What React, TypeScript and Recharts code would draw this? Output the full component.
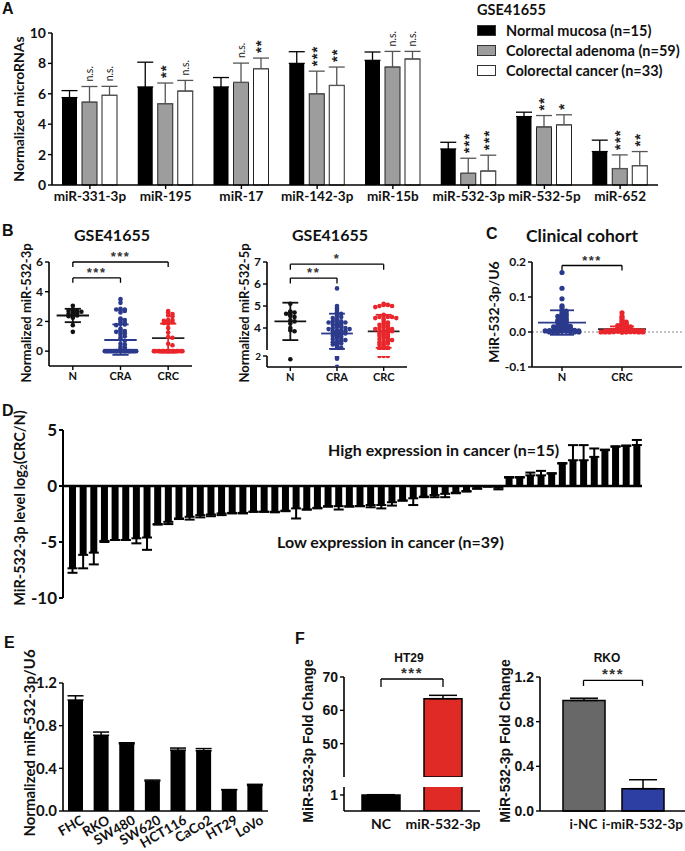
import React from 'react';
import {
  BarChart, Bar, XAxis, YAxis, ErrorBar, LabelList, Legend, Cell,
  ScatterChart, Scatter, ReferenceLine,
} from 'recharts';

const FONT = 'Lato, "Open Sans", sans-serif';
const ARIAL = '"Liberation Sans", Arial, sans-serif';
const INK = '#111';
const NAVY = '#2b3a8c';
const RED = '#e8262b';

// ---- Panel A: GSE41655 microRNA levels
const aMirnas = ['miR-331-3p', 'miR-195', 'miR-17', 'miR-142-3p', 'miR-15b', 'miR-532-3p', 'miR-532-5p', 'miR-652'];
const aSeries = ['Normal mucosa (n=15)', 'Colorectal adenoma (n=59)', 'Colorectal cancer (n=33)'];
const aNormal = [5.75, 6.45, 6.45, 8.0, 8.2, 2.37, 4.5, 2.2];
const aNormalSd = [0.46, 1.63, 0.62, 0.77, 0.55, 0.44, 0.29, 0.75];
const aAdenoma = [5.45, 5.35, 6.75, 6.0, 7.76, 0.77, 3.82, 1.08];
const aAdenomaSd = [1.03, 1.36, 1.27, 1.49, 1.03, 0.99, 0.75, 0.9];
const aCancer = [5.9, 6.18, 7.65, 6.55, 8.29, 0.92, 3.96, 1.27];
const aCancerSd = [0.59, 0.7, 0.7, 1.21, 0.5, 1.04, 0.66, 0.93];
const aAdenomaSig = ['n.s.', '**', 'n.s.', '***', 'n.s.', '***', '**', '***'];
const aCancerSig = ['n.s.', 'n.s.', '**', '**', 'n.s.', '***', '*', '**'];

// ---- Panel B: scatter groups
const bGroups = ['N', 'CRA', 'CRC'];
const b1N = [3.05, 2.8, 2.75, 2.7, 2.7, 2.65, 2.6, 2.55, 2.5, 2.45, 2.4, 2.35, 2.25, 1.75, 1.3];
const b1CRA = [3.5, 3.25, 2.85, 2.8, 2.8, 2.75, 2.7, 2.6, 2.2, 2.15, 2.1, 2.0, 1.9, 1.85, 1.8, 1.75, 1.5, 1.4, 1.35, 1.3,
  1.25, 1.2, 1.1, 1.0, 0.9, 0.8, 0.7, 0.5, 0.45, 0.3, 0.25, 0.15, 0.1,
  0, 0, 0, 0, 0, 0, 0, 0, 0, 0, 0, 0, 0, 0, 0, 0, 0, 0, 0, 0, 0, 0, 0, 0, 0, 0];
const b1CRC = [2.7, 2.6, 2.5, 2.4, 2.35, 2.1, 2.1, 2.05, 2.0, 1.95, 1.9, 1.85, 1.55, 1.25, 0.95, 0.9, 0.5, 0.4,
  0, 0, 0, 0, 0, 0, 0, 0, 0, 0, 0, 0, 0, 0, 0];
const b1Mean = [2.4, 0.75, 0.88];
const b1SdLow = [1.95, -0.25, -0.1];
const b1SdHigh = [2.85, 1.8, 1.85];

const b2N = [5.1, 4.75, 4.72, 4.7, 4.65, 4.6, 4.55, 4.5, 4.35, 4.3, 4.2, 4.0, 3.9, 3.85, 1.4];
const b2CRA = [5.8, 5.0, 4.9, 4.8, 4.7, 4.65, 4.6, 4.55, 4.5, 4.45, 4.4, 4.35, 4.3, 4.3, 4.25, 4.25, 4.2, 4.2, 4.15, 4.1,
  4.1, 4.05, 4.05, 4.0, 4.0, 3.95, 3.95, 3.9, 3.9, 3.85, 3.85, 3.8, 3.8, 3.75, 3.75, 3.7, 3.7, 3.65, 3.6, 3.6,
  3.55, 3.5, 3.5, 3.45, 3.4, 3.4, 3.35, 3.3, 3.3, 3.25, 3.2, 3.15, 3.1, 3.05, 3.0, 3.0, 1.75, 1.5, 0.05];
const b2CRC = [5.1, 5.05, 5.05, 5.0, 5.0, 4.95, 4.6, 4.55, 4.5, 4.5, 4.5, 4.45, 4.45, 4.4, 4.3, 4.25, 4.2, 4.2, 4.15, 4.1,
  4.1, 4.05, 4.0, 4.0, 3.95, 3.95, 3.9, 3.9, 3.85, 3.85, 3.8, 3.8, 3.75, 3.7, 3.7, 3.65, 3.6, 3.6, 3.55, 3.5,
  3.5, 3.45, 3.4, 3.4, 3.35, 3.3, 3.3, 3.25, 3.2, 3.15, 3.1, 3.1, 3.05, 3.0, 3.0, 2.0, 2.0, 2.0];
const b2Mean = [4.3, 3.75, 3.85];
const b2SdLow = [3.45, 3.05, 3.1];
const b2SdHigh = [5.15, 4.65, 4.6];

// ---- Panel C: clinical cohort
const cGroups = ['N', 'CRC'];
const cN = [0.17, 0.125, 0.095, 0.075, 0.07, 0.062, 0.06, 0.055, 0.052, 0.05, 0.047, 0.045, 0.042, 0.04, 0.038, 0.035,
  0.033, 0.03, 0.03, 0.028, 0.025, 0.022, 0.02, 0.02, 0.018, 0.016, 0.015, 0.013, 0.012, 0.01, 0.01, 0.009, 0.008,
  0.007, 0.006, 0.005, 0.005, 0.004, 0.003, 0.003, 0.002, 0.002, 0.001, 0.001, 0, 0, 0, 0];
const cCRC = [0.055, 0.045, 0.04, 0.035, 0.03, 0.028, 0.025, 0.022, 0.02, 0.02, 0.018, 0.015, 0.012, 0.01, 0.01, 0.009,
  0.008, 0.007, 0.006, 0.005, 0.005, 0.004, 0.004, 0.003, 0.003, 0.002, 0.002, 0.002, 0.001, 0.001, 0.001,
  0, 0, 0, 0, 0, 0, 0, 0];
const cMean = [0.027, 0.008];
const cSdLow = [-0.008, 0.0];
const cSdHigh = [0.062, 0.016];

// ---- Panel D: log2(CRC/N) per patient
const dValues = [-7.35, -6.15, -5.95, -4.9, -4.82, -4.82, -4.67, -4.6, -3.4, -3.2, -2.9, -2.75, -2.6, -2.55, -2.45,
  -2.4, -2.4, -2.3, -2.3, -2.3, -2.2, -2.0, -2.1, -1.95, -1.8, -1.8, -1.8, -1.8, -1.7, -1.7, -1.45, -1.3, -1.1,
  -0.95, -0.8, -0.7, -0.6, -0.45, -0.2, -0.05, -0.15,
  0.75, 0.75, 0.95, 0.95, 1.1, 2.0, 2.3, 2.3, 2.6, 3.2, 3.5, 3.57, 3.66];
const dErr = [0.4, 1.2, 1.05, 0.1, 0, 0, 0.45, 1.1, 0.05, 0.2, 0.05, 0.25, 0.2, 0.15, 0.15, 0.05, 0.05, 0, 0, 0.05,
  0.05, 0.9, 0, 0.05, 0.05, 0.3, 0.05, 0, 0.2, 0.3, 0.3, 0, 0.6, 0.05, 0.2, 0.3, 0.05, 0.05, 0.05, 0, 0.15,
  0.05, 0.05, 0.25, 0.4, 0.05, 0.05, 1.35, 1.35, 0.75, 0.05, 0.05, 0.05, 0.45];

// ---- Panel E: cell lines
const eLines = ['FHC', 'RKO', 'SW480', 'SW620', 'HCT116', 'CaCo2', 'HT29', 'LoVo'];
const eVals = [1.04, 0.71, 0.63, 0.28, 0.57, 0.565, 0.2, 0.24];
const eErr = [0.04, 0.03, 0.01, 0.01, 0.02, 0.02, 0.0, 0.01];

// ---- Panel F: fold change
const f1Groups = ['NC', 'miR-532-3p'];
const f1Vals = [1.0, 63.5];
const f1Err = [0.02, 1.0];
const f2Groups = ['i-NC', 'i-miR-532-3p'];
const f2Vals = [0.99, 0.2];
const f2Err = [0.02, 0.08];

const axisLine = { stroke: '#000', strokeWidth: 1.6 };
const tickLine = { stroke: '#000', strokeWidth: 1.4 };
const tickStyle = (fs: number, family = FONT) => ({ fontSize: fs, fontWeight: 700, fontFamily: family, fill: INK });

const yTitle = (text: string, x: number, cy: number, fs: number, family = FONT) => () => (
  <text x={x} y={cy} transform={`rotate(-90 ${x} ${cy})`} textAnchor="middle" dominantBaseline="central"
    fontSize={fs} fontWeight={700} fontFamily={family} fill={INK}>{text}</text>
);

// simple beeswarm placement of dots around a group centre
const swarm = (vals: number[], center: number, binH: number, step: number, maxOff: number) => {
  const counts = new Map<number, number>();
  return vals.map((v) => {
    const key = Math.round(v / binH);
    const k = counts.get(key) ?? 0;
    counts.set(key, k + 1);
    let off = Math.ceil(k / 2) * step * (k % 2 === 1 ? 1 : -1);
    if (Math.abs(off) > maxOff) off = Math.sign(off) * (Math.abs(off) % maxOff);
    return { x: center + off, y: v };
  });
};

const dot = (color: string, r = 2.3) => (p: any) => <circle cx={p.cx} cy={p.cy} r={r} fill={color} />;

const seg = (key: string, x1: any, y1: number, x2: any, y2: number, color = '#000', w = 1.3) => (
  <ReferenceLine key={key} segment={[{ x: x1, y: y1 }, { x: x2, y: y2 }]} stroke={color} strokeWidth={w} ifOverflow="visible" />
);

const bracket = (key: string, x1: any, x2: any, y: number, drop: number, text: string, fs = 13) => [
  <ReferenceLine key={`${key}-h`} segment={[{ x: x1, y }, { x: x2, y }]} stroke="#000" strokeWidth={1.3} ifOverflow="visible"
    label={{ value: text, position: 'top', offset: 1, fill: '#333', fontSize: fs, fontWeight: 700, fontFamily: ARIAL, letterSpacing: 1.5 }} />,
  seg(`${key}-l`, x1, y, x1, y - drop),
  seg(`${key}-r`, x2, y, x2, y - drop),
];

const meanSd = (key: string, cx: number, mean: number, lo: number, hi: number, halfMean: number, halfCap: number,
  color: string, meanColor: string) => [
  seg(`${key}-v`, cx, lo, cx, hi, color, 1.8),
  seg(`${key}-t`, cx - halfCap, hi, cx + halfCap, hi, color, 1.8),
  seg(`${key}-b`, cx - halfCap, lo, cx + halfCap, lo, color, 1.8),
  seg(`${key}-m`, cx - halfMean, mean, cx + halfMean, mean, meanColor, 1.8),
];

const sigLabel = (vals: number[], sds: number[]) => (p: any) => {
  const vb = p.viewBox ?? p;
  const i = p.index;
  const scale = vb.height / vals[i];
  const top = vb.y - sds[i] * scale - 5;
  const cx = vb.x + vb.width / 2;
  const ns = p.value === 'n.s.';
  return (
    <text x={cx} y={top} transform={`rotate(-90 ${cx} ${top})`} textAnchor="start" dominantBaseline="central"
      fontSize={ns ? 10.5 : 15} fontWeight={ns ? 400 : 700} fontFamily={ns ? FONT : ARIAL} letterSpacing={ns ? 0 : 1}
      fill="#222">{p.value}</text>
  );
};

function LegendA() {
  const fills = ['#000', '#9d9d9d', '#fff'];
  return (
    <div style={{ fontFamily: FONT, fontWeight: 700, color: INK, whiteSpace: 'nowrap' }}>
      <div style={{ fontSize: 14.5, height: 20, lineHeight: '20px' }}>GSE41655</div>
      {aSeries.map((s, i) => (
        <div key={s} style={{ display: 'flex', alignItems: 'center', height: 20, fontSize: 14.5 }}>
          <span style={{ width: 17, height: 9, background: fills[i], border: '1px solid #333', marginRight: 10, flex: 'none' }} />
          {s}
        </div>
      ))}
    </div>
  );
}

function PanelA() {
  const data = aMirnas.map((name, i) => ({
    name,
    normal: aNormal[i], normalErr: [0, aNormalSd[i]],
    adenoma: aAdenoma[i], adenomaErr: [0, aAdenomaSd[i]], adenomaSig: aAdenomaSig[i],
    cancer: aCancer[i], cancerErr: [0, aCancerSd[i]], cancerSig: aCancerSig[i],
  }));
  return (
    <div style={{ position: 'absolute', left: 0, top: 0 }}>
      <BarChart width={670} height={215} data={data} margin={{ top: 33, right: 12, bottom: 0, left: 22 }} barSize={15} barGap={5}>
        <XAxis dataKey="name" interval={0} height={30} tickSize={4} axisLine={axisLine} tickLine={tickLine} tick={tickStyle(13.5)} />
        <YAxis domain={[0, 10]} ticks={[0, 2, 4, 6, 8, 10]} width={30} tickSize={4} axisLine={axisLine} tickLine={tickLine}
          tick={tickStyle(14)} label={yTitle('Normalized microRNAs', 18, 109, 14)} />
        <Legend layout="horizontal" verticalAlign="middle" align="center" content={() => <LegendA />}
          wrapperStyle={{ left: 477, top: 0, width: 208, height: 80 }} />
        <Bar dataKey="normal" fill="#000" isAnimationActive={false}>
          <ErrorBar dataKey="normalErr" width={8} stroke="#000" strokeWidth={1.3} />
        </Bar>
        <Bar dataKey="adenoma" fill="#9d9d9d" stroke="#222" strokeWidth={1} isAnimationActive={false}>
          <ErrorBar dataKey="adenomaErr" width={8} stroke="#555" strokeWidth={1.3} />
          <LabelList dataKey="adenomaSig" content={sigLabel(aAdenoma, aAdenomaSd)} />
        </Bar>
        <Bar dataKey="cancer" fill="#fff" stroke="#222" strokeWidth={1} isAnimationActive={false}>
          <ErrorBar dataKey="cancerErr" width={8} stroke="#555" strokeWidth={1.3} />
          <LabelList dataKey="cancerSig" content={sigLabel(aCancer, aCancerSd)} />
        </Bar>
      </BarChart>
    </div>
  );
}

const bColors = ['#111', NAVY, RED];
const bMeanColors = ['#111', NAVY, '#222'];

function PanelB1() {
  const groups = [b1N, b1CRA, b1CRC];
  return (
    <div style={{ position: 'absolute', left: 0, top: 225 }}>
      <ScatterChart width={200} height={165} margin={{ top: 37, right: 8, bottom: 4, left: 19 }}>
        <XAxis type="number" dataKey="x" domain={[0.5, 3.5]} ticks={[1, 2, 3]} allowDataOverflow height={20}
          tickFormatter={(v: number) => bGroups[v - 1]} tickSize={4} axisLine={axisLine} tickLine={tickLine} tick={tickStyle(11)} />
        <YAxis type="number" dataKey="y" domain={[-1, 6]} ticks={[0, 2, 4, 6]} allowDataOverflow width={30} tickSize={4}
          axisLine={axisLine} tickLine={tickLine} tick={tickStyle(12)} label={yTitle('Normalized miR-532-3p', 26, 88, 13)} />
        {groups.map((g, i) => (
          <Scatter key={bGroups[i]} data={swarm(g, i + 1, 0.15, 0.09, 0.33)} shape={dot(bColors[i])} isAnimationActive={false} />
        ))}
        {bGroups.map((g, i) => meanSd(`b1${g}`, i + 1, b1Mean[i], b1SdLow[i], b1SdHigh[i], 0.34, 0.17, bColors[i], bMeanColors[i]))}
        {bracket('b1a', 1, 3, 6.0, 0.33, '***')}
        {bracket('b1b', 1, 2, 4.93, 0.33, '***')}
      </ScatterChart>
    </div>
  );
}

function PanelB2() {
  const groups = [b2N, b2CRA, b2CRC];
  const pts = groups.map((g, i) => swarm(g, i + 1, 0.1, 0.09, 0.38));
  return (
    <>
      <div style={{ position: 'absolute', left: 230, top: 225 }}>
        <ScatterChart width={185} height={125} margin={{ top: 37, right: 8, bottom: 0, left: 12 }}>
          <XAxis type="number" dataKey="x" domain={[0.5, 3.5]} allowDataOverflow hide />
          <YAxis type="number" dataKey="y" domain={[3, 7]} ticks={[3, 4, 5, 6, 7]} allowDataOverflow width={25} tickSize={4}
            axisLine={axisLine} tickLine={tickLine} tick={tickStyle(12)} />
          {pts.map((p, i) => (
            <Scatter key={bGroups[i]} data={p.filter((d) => d.y >= 2.95)} shape={dot(bColors[i])} isAnimationActive={false} />
          ))}
          {bGroups.map((g, i) => meanSd(`b2${g}`, i + 1, b2Mean[i], b2SdLow[i], b2SdHigh[i], 0.34, 0.17, bColors[i], bMeanColors[i]))}
          {bracket('b2a', 1, 3, 6.9, 0.25, '*')}
          {bracket('b2b', 1, 2, 6.27, 0.25, '**')}
        </ScatterChart>
      </div>
      <div style={{ position: 'absolute', left: 230, top: 225 }}>
        <ScatterChart width={185} height={165} margin={{ top: 131, right: 8, bottom: 3, left: 12 }}>
          <XAxis type="number" dataKey="x" domain={[0.5, 3.5]} ticks={[1, 2, 3]} allowDataOverflow height={20}
            tickFormatter={(v: number) => bGroups[v - 1]} tickSize={4} axisLine={axisLine} tickLine={tickLine} tick={tickStyle(11)} />
          <YAxis type="number" dataKey="y" domain={[0, 2]} ticks={[0, 2]} allowDataOverflow width={25} tickSize={4}
            axisLine={axisLine} tickLine={tickLine} tick={tickStyle(10)} label={yTitle('Normalized miR-532-5p', 14, 88, 13)} />
          {pts.map((p, i) => (
            <Scatter key={bGroups[i]} data={p.filter((d) => d.y <= 2.05)} shape={dot(bColors[i])} isAnimationActive={false} />
          ))}
        </ScatterChart>
      </div>
    </>
  );
}

function PanelC() {
  const groups = [cN, cCRC];
  const colors = [NAVY, RED];
  const meanColors = [NAVY, '#222'];
  return (
    <div style={{ position: 'absolute', left: 455, top: 225 }}>
      <ScatterChart width={230} height={165} margin={{ top: 37, right: 3, bottom: 3, left: 45 }}>
        <XAxis type="number" dataKey="x" domain={[0.5, 3]} ticks={[1, 2]} allowDataOverflow height={20}
          tickFormatter={(v: number) => cGroups[v - 1]} tickSize={4} axisLine={axisLine} tickLine={tickLine} tick={tickStyle(11)} />
        <YAxis type="number" dataKey="y" domain={[-0.1, 0.2]} ticks={[-0.1, 0, 0.1, 0.2]} allowDataOverflow width={32}
          tickFormatter={(v: number) => v.toFixed(1)} tickSize={4} axisLine={axisLine} tickLine={tickLine} tick={tickStyle(12)}
          label={yTitle('MiR-532-3p/U6', 38, 87, 14)} />
        <ReferenceLine y={0} stroke="#888" strokeDasharray="2 2" strokeWidth={1.2} />
        {groups.map((g, i) => (
          <Scatter key={cGroups[i]} data={swarm(g, i + 1, 0.006, 0.07, 0.42)} shape={dot(colors[i], 2.6)} isAnimationActive={false} />
        ))}
        {cGroups.map((g, i) => meanSd(`c${g}`, i + 1, cMean[i], cSdLow[i], cSdHigh[i], 0.4, 0.2, colors[i], meanColors[i]))}
        {bracket('c', 1, 2, 0.19, 0.014, '***')}
      </ScatterChart>
    </div>
  );
}

function PanelD() {
  const data = dValues.map((v, i) => ({ id: i + 1, v, err: v < 0 ? [dErr[i], 0] : [0, dErr[i]] }));
  const title = () => {
    const x = 19;
    const cy = 108;
    return (
      <text x={x} y={cy} transform={`rotate(-90 ${x} ${cy})`} textAnchor="middle" dominantBaseline="central"
        fontSize={14.5} fontWeight={700} fontFamily={FONT} fill={INK}>
        MiR-532-3p level log<tspan dy={4} fontSize={10}>2</tspan><tspan dy={-4}>(CRC/N)</tspan>
      </text>
    );
  };
  return (
    <div style={{ position: 'absolute', left: 0, top: 400 }}>
      <BarChart width={660} height={215} data={data} margin={{ top: 30, right: 18, bottom: 17, left: 23 }} barSize={7}>
        <XAxis dataKey="id" hide padding={{ left: 4, right: 0 }} />
        <YAxis domain={[-10, 5]} ticks={[5, 0, -5, -10]} interval={0} width={40} tickSize={4} axisLine={{ stroke: '#000', strokeWidth: 2 }}
          tickLine={{ stroke: '#000', strokeWidth: 2 }} tick={tickStyle(17)} label={title} />
        <Bar dataKey="v" fill="#000" isAnimationActive={false}>
          <ErrorBar dataKey="err" width={5} stroke="#000" strokeWidth={2} />
        </Bar>
        <ReferenceLine y={0} stroke="#000" strokeWidth={2.5} />
      </BarChart>
    </div>
  );
}

const RotTick = (p: any) => (
  <g transform={`translate(${p.x},${p.y})`}>
    <text x={6} y={8} textAnchor="end" transform="rotate(-30)" fontSize={13.5} fontWeight={700} fontFamily={FONT} fill={INK}>
      {p.payload.value}
    </text>
  </g>
);

function PanelE() {
  const data = eLines.map((name, i) => ({ name, v: eVals[i], err: [0, eErr[i]] }));
  return (
    <div style={{ position: 'absolute', left: 0, top: 640 }}>
      <BarChart width={280} height={210} data={data} margin={{ top: 43, right: 12, bottom: 0, left: 28 }} barSize={15}>
        <XAxis dataKey="name" interval={0} height={39} tickLine={false} axisLine={axisLine} tick={RotTick} />
        <YAxis domain={[0, 1.2]} ticks={[0, 0.4, 0.8, 1.2]} width={35} tickFormatter={(v: number) => v.toFixed(1)} tickSize={4}
          axisLine={axisLine} tickLine={tickLine} tick={tickStyle(15)} label={yTitle('Normalized miR-532-3p/U6', 29, 103, 15)} />
        <Bar dataKey="v" fill="#000" isAnimationActive={false}>
          <ErrorBar dataKey="err" width={8} stroke="#000" strokeWidth={1.5} />
        </Bar>
      </BarChart>
    </div>
  );
}

const f1Colors = ['#000', '#e02a26'];
const f2Colors = ['#686868', '#2d3fa3'];

function PanelF() {
  const upper = f1Groups.map((name, i) => ({ name, v: f1Vals[i] > 40 ? f1Vals[i] : null, err: f1Vals[i] > 40 ? [0, f1Err[i]] : undefined }));
  const lower = f1Groups.map((name, i) => ({ name, v: f1Vals[i], err: f1Vals[i] <= 1.5 ? [0, f1Err[i]] : undefined }));
  const right = f2Groups.map((name, i) => ({ name, v: f2Vals[i], err: [0, f2Err[i]] }));
  return (
    <>
      <div style={{ position: 'absolute', left: 300, top: 665 }}>
        <BarChart width={190} height={112} data={upper} margin={{ top: 12, right: 10, bottom: 0, left: 14 }} barSize={38}>
          <XAxis dataKey="name" hide padding={{ left: 6, right: 6 }} />
          <YAxis domain={[40, 70]} ticks={[40, 50, 60, 70]} allowDataOverflow width={30} tickSize={4} axisLine={axisLine}
            tickLine={tickLine} tick={tickStyle(14, ARIAL)} />
          <Bar dataKey="v" stroke="#000" strokeWidth={1.5} isAnimationActive={false}>
            {upper.map((d, i) => <Cell key={d.name} fill={f1Colors[i]} />)}
            <ErrorBar dataKey="err" width={14} stroke="#000" strokeWidth={1.5} />
          </Bar>
          {bracket('f1', 'NC', 'miR-532-3p', 69.4, 2.4, '***', 15)}
        </BarChart>
      </div>
      <div style={{ position: 'absolute', left: 300, top: 640 }}>
        <BarChart width={190} height={205} data={lower} margin={{ top: 147, right: 10, bottom: 0, left: 14 }} barSize={38}>
          <XAxis dataKey="name" interval={0} height={34} padding={{ left: 6, right: 6 }} tickLine={false} axisLine={axisLine}
            tick={tickStyle(14)} />
          <YAxis domain={[0, 1.5]} ticks={[0, 1]} allowDataOverflow width={30} tickSize={4} axisLine={axisLine}
            tickLine={tickLine} tick={tickStyle(14, ARIAL)} label={yTitle('MiR-532-3p Fold Change', 8, 101, 14, ARIAL)} />
          <Bar dataKey="v" stroke="#000" strokeWidth={1.5} isAnimationActive={false}>
            {lower.map((d, i) => <Cell key={d.name} fill={f1Colors[i]} />)}
            <ErrorBar dataKey="err" width={14} stroke="#000" strokeWidth={1.5} />
          </Bar>
        </BarChart>
      </div>
      <div style={{ position: 'absolute', left: 495, top: 640 }}>
        <BarChart width={190} height={205} data={right} margin={{ top: 37, right: 0, bottom: 0, left: 10 }} barSize={42}>
          <XAxis dataKey="name" interval={0} height={34} padding={{ left: 14, right: 13 }} tickLine={false} axisLine={axisLine}
            tick={tickStyle(13.5)} />
          <YAxis domain={[0, 1.2]} ticks={[0, 0.4, 0.8, 1.2]} width={35} tickFormatter={(v: number) => v.toFixed(1)} tickSize={4}
            axisLine={axisLine} tickLine={tickLine} tick={tickStyle(14, ARIAL)}
            label={yTitle('MiR-532-3p Fold Change', 10, 101, 14, ARIAL)} />
          <Bar dataKey="v" stroke="#000" strokeWidth={1.5} isAnimationActive={false}>
            {right.map((d, i) => <Cell key={d.name} fill={f2Colors[i]} />)}
            <ErrorBar dataKey="err" width={14} stroke="#000" strokeWidth={1.5} />
          </Bar>
          {bracket('f2', 'i-NC', 'i-miR-532-3p', 1.17, 0.05, '***', 15)}
        </BarChart>
      </div>
    </>
  );
}

function Overlay() {
  return (
    <svg width={685} height={851} style={{ position: 'absolute', left: 0, top: 0, pointerEvents: 'none' }}
      fontWeight={700} fill={INK}>
      <g fontFamily={ARIAL} fontSize={16}>
        <text x={2} y={14}>A</text>
        <text x={2} y={236}>B</text>
        <text x={486} y={239}>C</text>
        <text x={2} y={416}>D</text>
        <text x={4} y={648}>E</text>
        <text x={295} y={644}>F</text>
      </g>
      <g fontFamily={FONT}>
        <text x={112} y={241} fontSize={16} textAnchor="middle">GSE41655</text>
        <text x={330} y={241} fontSize={16} textAnchor="middle">GSE41655</text>
        <text x={582} y={242} fontSize={17.5} textAnchor="middle">Clinical cohort</text>
        <text x={328} y={456} fontSize={16}>High expression in cancer (n=15)</text>
        <text x={277} y={548} fontSize={16}>Low expression in cancer (n=39)</text>
      </g>
      <g fontFamily={ARIAL} fontSize={12}>
        <text x={409} y={662} textAnchor="middle">HT29</text>
        <text x={607} y={662} textAnchor="middle">RKO</text>
      </g>
    </svg>
  );
}

export default function App() {
  return (
    <div style={{ position: 'absolute', left: 0, top: 0, width: 685, height: 851, background: '#fff', overflow: 'hidden' }}>
      <PanelA />
      <PanelB1 />
      <PanelB2 />
      <PanelC />
      <PanelD />
      <PanelE />
      <PanelF />
      <Overlay />
    </div>
  );
}
